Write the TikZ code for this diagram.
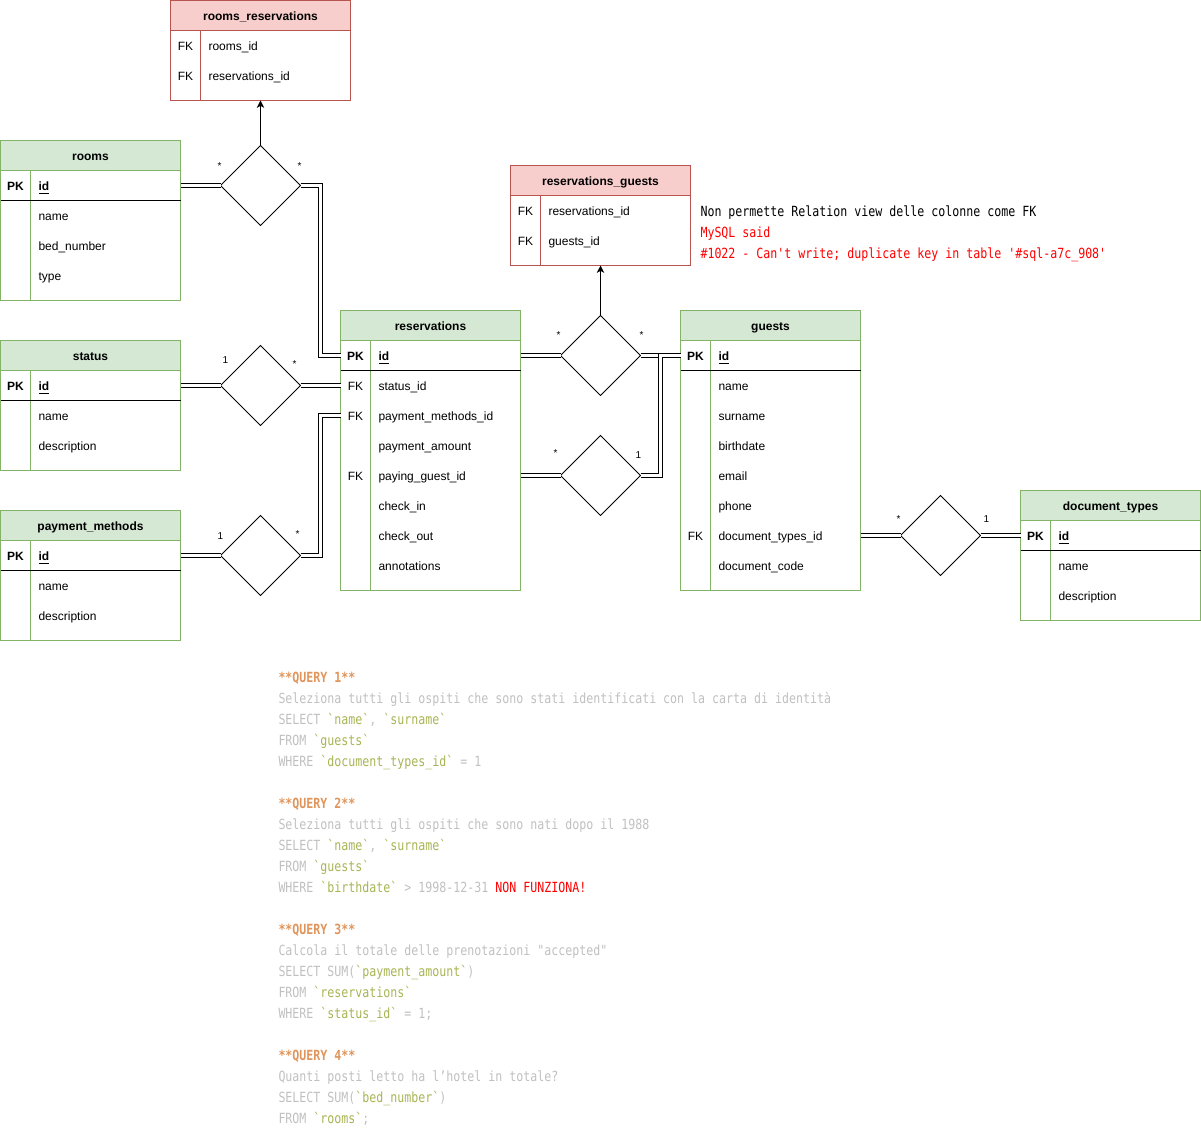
\documentclass[tikz,border=0pt]{standalone}
\usepackage{fontspec}
\setmainfont{Liberation Sans}
\setmonofont{DejaVu Sans Mono}[FakeStretch=0.83]
\usetikzlibrary{calc,arrows.meta,shapes.geometric}

\definecolor{greenln}{HTML}{82B366}
\definecolor{greenfl}{HTML}{D5E8D4}
\definecolor{redln}{HTML}{B85450}
\definecolor{redfl}{HTML}{F8CECC}
\definecolor{qorange}{HTML}{E0955C}
\definecolor{qgray}{HTML}{C0C0C0}
\definecolor{qgreen}{HTML}{A8B454}

\tikzset{
	thead/.style={draw=#1ln, fill=#1fl, minimum width=135pt, minimum height=22.5pt, inner sep=0, outer sep=0, font=\bfseries\fontsize{9}{11}\selectfont, text height=8pt, text depth=0pt},
	tbody/.style={draw=#1ln, minimum width=135pt, inner sep=0, outer sep=0},
	keytxt/.style={inner sep=0, font=\fontsize{9}{11}\selectfont, text height=8pt, text depth=0pt},
	fldtxt/.style={keytxt, anchor=west},
	rel/.style={diamond, draw, minimum size=60pt, inner sep=0, outer sep=0},
	link/.style={double, double distance=2.25pt},
	toarr/.style={-{Stealth[length=5.5pt,width=5.5pt,inset=1.5pt]}},
	card/.style={inner sep=0, font=\fontsize{7.5}{9}\selectfont},
	code/.style={anchor=base west, inner sep=0, text=qgray, font=\ttfamily\fontsize{10.5}{15.75}\selectfont}
}

\newcommand\ertable[7]{%
	\node[thead=#2] (#1) at (#3+90,#4+15) {#6};
	\node[tbody=#2, minimum height={(#5-#4-30)*0.75pt}] (#1-b) at (#3+90,{(#4+#5+30)/2}) {};
	\draw[#2ln] (#1-b.north west) ++(30,0) -- ++(0,#5-#4-30);
	\foreach \k/\f/\t [count=\i] in {#7}{
		\node[keytxt] (#1-k\i) at (#3+15,#4+15+30*\i) {\k};
		\node[fldtxt] (#1-\t) at (#3+37.5,#4+15+30*\i) {\f};
	}%
}
\newcommand\qhead[1]{\textcolor{qorange}{\bfseries**#1**}}
\newcommand\qfield[1]{\textcolor{qgreen}{`#1`}}

\begin{document}
\begin{tikzpicture}[x=0.75pt,y=-0.75pt,line width=0.75pt]
	\path[use as bounding box] (0,0) rectangle (1201,1130);
	\ertable{rr}{red}{170.5}{0.5}{100.5}{rooms\_reservations}{FK/rooms\_id/rooms, FK/reservations\_id/res}
	\ertable{rooms}{green}{0.5}{140.5}{300.5}{rooms}{\textbf{PK}/\textbf{\underline{id}}/id, {}/name/name, {}/bed\_number/bed, {}/type/type}
	\ertable{status}{green}{0.5}{340.5}{470.5}{status}{\textbf{PK}/\textbf{\underline{id}}/id, {}/name/name, {}/description/desc}
	\ertable{pay}{green}{0.5}{510.5}{640.5}{payment\_methods}{\textbf{PK}/\textbf{\underline{id}}/id, {}/name/name, {}/description/desc}
	\ertable{res}{green}{340.5}{310.5}{590.5}{reservations}{\textbf{PK}/\textbf{\underline{id}}/id, FK/status\_id/status, FK/payment\_methods\_id/pay, {}/payment\_amount/amount, FK/paying\_guest\_id/guest, {}/check\_in/in, {}/check\_out/out, {}/annotations/notes}
	\ertable{rg}{red}{510.5}{165.5}{265.5}{reservations\_guests}{FK/reservations\_id/res, FK/guests\_id/guests}
	\ertable{guests}{green}{680.5}{310.5}{590.5}{guests}{\textbf{PK}/\textbf{\underline{id}}/id, {}/name/name, {}/surname/surname, {}/birthdate/birth, {}/email/email, {}/phone/phone, FK/document\_types\_id/doc, {}/document\_code/code}
	\ertable{doc}{green}{1020.5}{490.5}{620.5}{document\_types}{\textbf{PK}/\textbf{\underline{id}}/id, {}/name/name, {}/description/desc}
	\foreach \n in {rooms,status,pay,res,guests,doc}
		\draw (\n-b.north west) ++(0,30) -- ++(180,0);

	\node[rel] (d1) at (260.5,185.5) {};
	\node[rel] (d2) at (260.5,385.5) {};
	\node[rel] (d3) at (260.5,555.5) {};
	\node[rel] (d4) at (600.5,355.5) {};
	\node[rel] (d5) at (600.5,475.5) {};
	\node[rel] (d6) at (940.5,535.5) {};

	\draw[toarr] (d1.north) -- (rr-b.south);
	\draw[toarr] (d4.north) -- (rg-b.south);
	\draw[link] (rooms.east |- rooms-id) -- (d1.west);
	\draw[link] (d1.east) -- ++(20,0) |- (res.west |- res-id);
	\draw[link] (status.east |- status-id) -- (d2.west);
	\draw[link] (d2.east) -- (res.west |- res-status);
	\draw[link] (pay.east |- pay-id) -- (d3.west);
	\draw[link] (d3.east) -- ++(20,0) |- (res.west |- res-pay);
	\draw[link] (res.east |- res-id) -- (d4.west);
	\draw[link] (d4.east) -- (guests.west |- guests-id);
	\draw[link] (res.east |- res-guest) -- (d5.west);
	\draw[link] (d5.east) -- ++(20,0) |- (guests.west |- guests-id);
	\draw[link] (guests.east |- guests-doc) -- (d6.west);
	\draw[link] (d6.east) -- (doc.west |- doc-id);

	\node[card] (c1) at (219.5,166) {*};
	\node[card] (c2) at (299.5,166) {*};
	\node[card] (c3) at (225.5,360) {1};
	\node[card] (c4) at (294.5,364) {*};
	\node[card] (c5) at (220.5,536) {1};
	\node[card] (c6) at (297.5,534) {*};
	\node[card] (c7) at (558.5,335) {*};
	\node[card] (c8) at (641.5,335) {*};
	\node[card] (c9) at (555.5,453) {*};
	\node[card] (c10) at (638.5,455) {1};
	\node[card] (c11) at (898.5,519) {*};
	\node[card] (c12) at (986.5,519) {1};

	\node[code,text=black] (n1) at (700,217) {Non permette Relation view delle colonne come FK};
	\node[code,text=red] (n2) at (700,238) {MySQL said};
	\node[code,text=red] (n3) at (700,259) {\#1022 - Can't write; duplicate key in table '\#sql-a7c\_908'};

	\foreach \qline [count=\i] in {
		\qhead{QUERY 1},
		Seleziona tutti gli ospiti che sono stati identificati con la carta di identità,
		{SELECT \qfield{name}, \qfield{surname}},
		FROM \qfield{guests},
		WHERE \qfield{document\_types\_id} = 1,
		{},
		\qhead{QUERY 2},
		Seleziona tutti gli ospiti che sono nati dopo il 1988,
		{SELECT \qfield{name}, \qfield{surname}},
		FROM \qfield{guests},
		WHERE \qfield{birthdate} > 1998-12-31 \textcolor{red}{NON FUNZIONA!},
		{},
		\qhead{QUERY 3},
		Calcola il totale delle prenotazioni "accepted",
		SELECT SUM(\qfield{payment\_amount}),
		FROM \qfield{reservations},
		WHERE \qfield{status\_id} = 1;,
		{},
		\qhead{QUERY 4},
		Quanti posti letto ha l’hotel in totale?,
		SELECT SUM(\qfield{bed\_number}),
		FROM \qfield{rooms};}
		\node[code] (q\i) at (278,661+21*\i) {\qline};
\end{tikzpicture}
\end{document}
